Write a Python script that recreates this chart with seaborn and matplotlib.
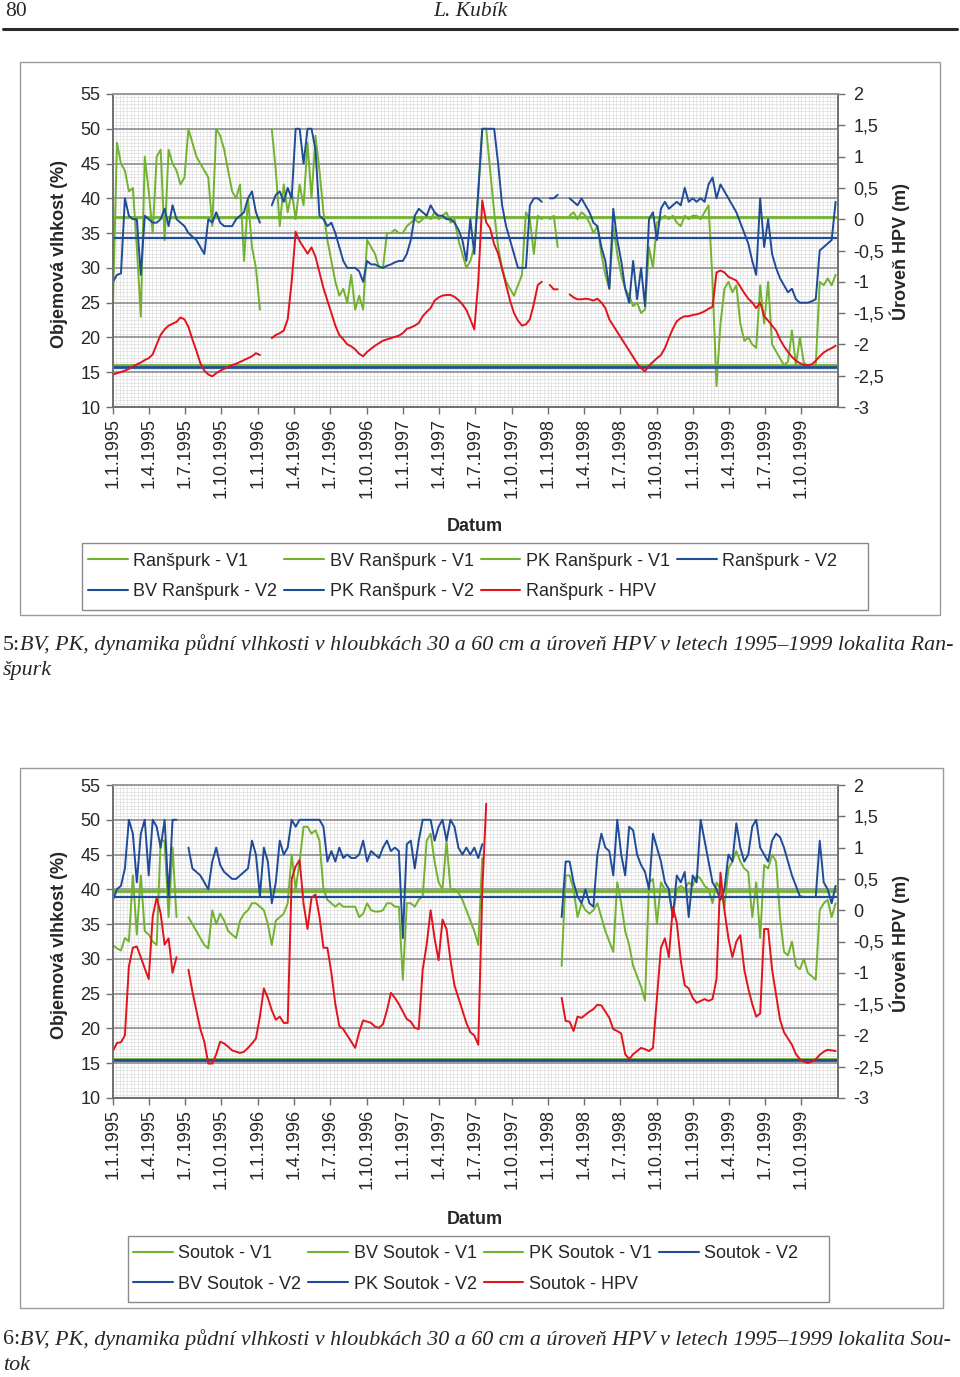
import numpy as np
import pandas as pd
import matplotlib
matplotlib.use("Agg")
import matplotlib.pyplot as plt
from matplotlib.lines import Line2D
from matplotlib.patches import Rectangle
from matplotlib.ticker import MultipleLocator
import seaborn as sns

nan = np.nan

# ---------------- data (one value every 10 days from 1.1.1995) ----------------
# Ranšpurk, soil moisture (%) at 30 cm (V1) and 60 cm (V2), groundwater level (m)
ransp_v1 = [
    25, 48, 45, 44, 41, 41.5, 33, 23, 46, 41,
    35, 46, 47, 34, 47, 45, 44, 42, 43, 50,
    48, 46, 45, 44, 43, 36, 50, 49, 47, 44,
    41, 40, 42, 31, 40, 33, 30, 24, nan, nan,
    50, 44, 36, 42, 38, 41, 37, 42, 39, 48,
    40, 49, 44, 38, 34, 31, 28, 26, 27, 25,
    29, 24, 26, 24, 34, 33, 32, 30, 30, 35,
    35, 35.5, 35, 35, 36, 36.5, 37, 36.5, 37, 37.5,
    37, 38, 37, 37.5, 38, 36.5, 37, 34, 32, 30,
    31, 33, 41, 50, 50, 44, 38, 33, 30, 28,
    27, 26, 27.5, 29, 38, 37, 32, 37.5, 37, nan,
    37, 37.5, 33, nan, nan, 37.5, 38, 37, 38, 37.5,
    36.5, 35, 36, 32, 29, 27, 36, 32, 29, 27,
    26, 24.5, 25, 23.5, 24, 33, 30, 36.5, 37, 37.5,
    37, 37.5, 36.5, 36, 37.5, 37, 37.5, 37.5, 37, 38,
    39, 28, 13, 22, 27, 28, 26.5, 27.5, 22, 19.5,
    20, 19, 18.5, 27.5, 22, 28, 19, 18, 17, 16,
    16.5, 21, 16, 20, 16.3, 16, 16, 16, 28, 27.5,
    28.5, 27.5, 29,
]
ransp_v2 = [
    28, 29, 29.2, 40, 37.5, 37, 37, 29, 37.5, 37,
    36.5, 36.5, 37, 38.5, 36, 39, 37, 36.5, 36, 35,
    34.5, 34, 33, 32, 37, 36.5, 38, 36.5, 36, 36,
    36, 37, 37.5, 38, 40, 41, 38, 36.5, nan, nan,
    39, 40.5, 41, 39.5, 41.5, 40, 50, 50, 45, 50,
    50, 47, 37.5, 37, 36, 36.5, 35, 33, 31, 30,
    30, 30, 29.5, 28, 31, 30.5, 30.5, 30.2, 30, 30.3,
    30.5, 30.8, 31, 31, 32, 34, 37.5, 38.5, 38, 37.5,
    39, 38, 37.5, 37.5, 37, 37, 36.5, 35.5, 34, 31,
    37, 32, 41, 50, 50, 50, 50, 45, 39, 36,
    34, 32, 30, 30, 30, 39, 40, 40, 39.5, nan,
    40, 40, 40.5, nan, nan, 40, 39.5, 39, 40, 39,
    38, 36.5, 36, 33, 31, 27, 38.5, 34, 31, 27,
    25, 31, 25.5, 30, 24.5, 37, 38, 34, 38.5, 39.5,
    38.5, 39, 39.5, 39, 41.5, 39.5, 40, 39.5, 40, 39.5,
    42, 43, 40, 42, 41, 40, 39, 38, 36.5, 35,
    33.5, 31, 29, 40, 33, 37, 32, 30, 28.5, 27.5,
    26.5, 27, 25.5, 25, 25, 25, 25.2, 25.5, 32.5, 33,
    33.5, 34, 39.5,
]
ransp_hpv = [
    -2.48, -2.46, -2.44, -2.42, -2.39, -2.35, -2.32, -2.29, -2.25, -2.22,
    -2.16, -2.0, -1.85, -1.76, -1.7, -1.67, -1.64, -1.57, -1.6, -1.72,
    -1.92, -2.1, -2.3, -2.42, -2.48, -2.51, -2.46, -2.42, -2.39, -2.36,
    -2.33, -2.31, -2.28, -2.25, -2.22, -2.19, -2.14, -2.17, nan, nan,
    -1.9, -1.85, -1.82, -1.78, -1.6, -1.0, -0.2, -0.35, -0.45, -0.55,
    -0.45, -0.6, -0.85, -1.1, -1.3, -1.5, -1.7, -1.85, -1.92, -2.0,
    -2.03, -2.08, -2.15, -2.19, -2.12, -2.07, -2.02, -1.98, -1.94, -1.92,
    -1.9, -1.88, -1.86, -1.82, -1.75, -1.73, -1.7, -1.66, -1.55, -1.48,
    -1.42, -1.3, -1.25, -1.22, -1.21, -1.21, -1.24, -1.29, -1.36, -1.45,
    -1.6, -1.76, -1.0, 0.3, -0.05, -0.15, -0.4, -0.55, -0.8, -1.05,
    -1.3, -1.5, -1.62, -1.7, -1.68, -1.6, -1.35, -1.05, -1.0, nan,
    -1.05, -1.12, -1.12, nan, nan, -1.2, -1.25, -1.28, -1.28, -1.27,
    -1.28, -1.3, -1.27, -1.33, -1.42, -1.6, -1.7, -1.8, -1.9, -2.0,
    -2.1, -2.2, -2.3, -2.38, -2.43, -2.34, -2.28, -2.22, -2.17, -2.06,
    -1.9, -1.75, -1.63, -1.58, -1.55, -1.55, -1.53, -1.52, -1.5, -1.47,
    -1.43, -1.4, -0.85, -0.82, -0.85, -0.92, -0.95, -0.98, -1.08, -1.18,
    -1.27, -1.33, -1.42, -1.33, -1.55, -1.62, -1.7, -1.78, -1.92, -2.03,
    -2.12, -2.2, -2.26, -2.3, -2.33, -2.33, -2.32, -2.26, -2.19, -2.13,
    -2.09, -2.06, -2.02,
]
ransp_bv_v1, ransp_pk_v1 = 16.05, 37.35
ransp_bv_v2, ransp_pk_v2 = 15.8, 34.3

# Soutok
soutok_v1 = [
    32, 31.5, 31.2, 33, 32.5, 42, 33.5, 42, 34, 33.5,
    32.5, 32, 47, 47, 36, 46, 36, nan, nan, 36,
    35, 34, 33, 32, 31.5, 37, 35, 36.5, 35.5, 34,
    33.5, 33, 35.5, 36.5, 37, 38, 38, 37.5, 37, 35,
    32, 35.5, 36, 36.5, 38, 45, 40, 44, 49, 49,
    48, 48.5, 47, 40, 38.5, 38, 37.5, 38, 37.5, 37.5,
    37.5, 37.5, 36, 36.5, 38, 37, 36.8, 36.8, 37, 38,
    38, 37.5, 37.5, 27, 38, 38, 37.5, 38.5, 39, 47,
    48, 44, 41, 40, 47, 40, 40, 39.5, 38.5, 37,
    35.5, 34, 32, 44.5, nan, nan, nan, nan, nan, nan,
    nan, nan, nan, nan, nan, nan, nan, nan, nan, nan,
    nan, nan, nan, 29, 42, 42, 40, 36, 38, 37,
    36.5, 37, 38, 36, 34, 32.5, 31, 41, 38, 34,
    32, 29, 27.5, 26, 24, 41, 41.5, 35, 41, 40,
    39.5, 36, 40, 40.5, 40, 41, 40.5, 42, 41.5, 40.5,
    40, 38, 41, 40, 37.5, 43, 44, 45.5, 44, 43,
    42.5, 36, 41, 33, 43.5, 43, 45, 44, 36, 31,
    30.5, 32.5, 29, 28.5, 30, 28, 27.5, 27, 37, 38,
    38.5, 36, 38,
]
soutok_v2 = [
    38.5, 40, 40.5, 43, 50, 48, 41, 48, 50, 42,
    50, 49, 46, 50, 39, 50, 50, nan, nan, 46,
    43, 42.5, 42, 41, 40, 44, 46, 43.5, 42.5, 42,
    41.5, 41.5, 42, 42.5, 43, 47, 45, 39, 46, 44,
    38, 41, 47, 45, 46, 50, 49, 50, 50, 50,
    50, 50, 50, 49, 44, 45.5, 44, 46, 44.5, 45,
    44.5, 44.5, 45, 47, 44, 45.5, 45, 44.5, 46, 47,
    45.5, 46, 45.5, 33, 46.5, 47, 43, 47, 50, 50,
    50, 47, 49, 50, 47, 50, 49, 46, 45, 46,
    45, 46, 44.5, 46.5, nan, nan, nan, nan, nan, nan,
    nan, nan, nan, nan, nan, nan, nan, nan, nan, nan,
    nan, nan, nan, 36, 44, 44, 41, 39, 38, 40,
    38, 37.5, 45, 48, 46, 45.5, 42, 50, 45, 42,
    49, 48.5, 45, 43.5, 42.5, 40, 48, 46, 44, 41,
    40, 36, 42, 41, 42.5, 36, 42, 41, 50, 47,
    44, 41, 40, 38.5, 40, 45, 44, 49.5, 46, 44,
    45, 49, 50, 46, 45, 44, 47, 48, 47.5, 46,
    44, 42, 40.5, 39, 38.9, 38.9, 38.9, 38.9, 47, 41,
    40, 38, 40.5,
]
soutok_hpv = [
    -2.25, -2.12, -2.11, -2.0, -0.9, -0.6, -0.58, -0.75, -0.93, -1.1,
    -0.1, 0.2, -0.05, -0.55, -0.45, -1.0, -0.75, nan, nan, -0.95,
    -1.3, -1.6, -1.9, -2.1, -2.45, -2.45, -2.3, -2.1, -2.13, -2.18,
    -2.24, -2.26, -2.28, -2.26, -2.2, -2.13, -2.05, -1.7, -1.25, -1.4,
    -1.6, -1.75, -1.7, -1.8, -1.8, 0.5, 0.7, 0.8, 0.1, -0.3,
    0.2, 0.25, -0.1, -0.6, -0.6, -1.0, -1.5, -1.85, -1.9, -2.0,
    -2.1, -2.2, -1.95, -1.76, -1.78, -1.8, -1.86, -1.88, -1.82, -1.6,
    -1.32, -1.4, -1.5, -1.62, -1.74, -1.78, -1.88, -1.9, -0.95, -0.55,
    0.0, -0.45, -0.8, -0.15, -0.3, -0.8, -1.2, -1.4, -1.6, -1.8,
    -1.95, -2.0, -2.15, 0.3, 1.7, nan, nan, nan, nan, nan,
    nan, nan, nan, nan, nan, nan, nan, nan, nan, nan,
    nan, nan, nan, -1.4, -1.77, -1.78, -1.93, -1.7, -1.72, -1.67,
    -1.62, -1.58, -1.51, -1.52, -1.62, -1.72, -1.9, -1.93, -1.97, -2.3,
    -2.38, -2.3, -2.25, -2.2, -2.22, -2.25, -2.2, -1.4, -0.6, -0.45,
    -0.75, 0.05, -0.2, -0.8, -1.2, -1.25, -1.4, -1.48, -1.45, -1.42,
    -1.45, -1.42, -1.1, 0.6, 0.0, -0.45, -0.75, -0.5, -0.4, -0.95,
    -1.25, -1.5, -1.7, -1.65, -0.3, -0.3, -0.95, -1.35, -1.75, -1.95,
    -2.05, -2.15, -2.3, -2.38, -2.42, -2.44, -2.42, -2.38, -2.31, -2.26,
    -2.23, -2.24, -2.25,
]
soutok_bv_v1, soutok_pk_v1 = 15.6, 39.8
soutok_bv_v2, soutok_pk_v2 = 15.4, 38.9

quarter_labels = [
    '1.1.1995', '1.4.1995', '1.7.1995', '1.10.1995',
    '1.1.1996', '1.4.1996', '1.7.1996', '1.10.1996',
    '1.1.1997', '1.4.1997', '1.7.1997', '1.10.1997',
    '1.1.1998', '1.4.1998', '1.7.1998', '1.10.1998',
    '1.1.1999', '1.4.1999', '1.7.1999', '1.10.1999',
]
moisture_ticks = [10, 15, 20, 25, 30, 35, 40, 45, 50, 55]
hpv_ticks = [-3, -2.5, -2, -1.5, -1, -0.5, 0, 0.5, 1, 1.5, 2]

GREEN = '#72b230'
BLUE = '#1f4b98'
RED = '#e2131c'
AXIS_GREY = '#6e6e6e'

sns.set_theme(style='white')
plt.rcParams['font.family'] = ['Liberation Sans', 'DejaVu Sans']

W, H = 960, 1377
dates = pd.date_range('1995-01-01', periods=len(ransp_v1), freq='10D')
tick_dates = [pd.to_datetime(s, format='%d.%m.%Y') for s in quarter_labels]


def fx(px):
    return px / W


def fy(py):
    return 1 - py / H


def segments(values):
    df = pd.DataFrame({'date': dates, 'value': values})
    df['seg'] = df['value'].isna().cumsum()
    return df.dropna()


def draw_series(ax, values, color, lw=1.4):
    sns.lineplot(data=segments(values), x='date', y='value', units='seg',
                 estimator=None, color=color, lw=lw, ax=ax, legend=False)


def draw_chart(fig, top, v1, v2, hpv, bv_v1, pk_v1, bv_v2, pk_v2):
    ax = fig.add_axes([fx(113), fy(top + 313), fx(838) - fx(113), 313 / H])
    ax.set_axisbelow(True)

    # Excel series order: V1, BV V1, PK V1, V2, BV V2, PK V2, HPV
    draw_series(ax, v1, GREEN)
    ax.axhline(bv_v1, color=GREEN, lw=2.0)
    ax.axhline(pk_v1, color=GREEN, lw=2.0)
    draw_series(ax, v2, BLUE)
    ax.axhline(bv_v2, color=BLUE, lw=2.0)
    ax.axhline(pk_v2, color=BLUE, lw=1.6)

    ax.set_xlim(pd.Timestamp('1995-01-01'), pd.Timestamp('2000-01-01'))
    ax.set_ylim(10, 55)
    ax.set_yticks(moisture_ticks)
    ax.set_yticklabels([str(t) for t in moisture_ticks])
    ax.set_xticks(tick_dates)
    ax.set_xticklabels(quarter_labels, rotation=90)
    ax.set_xlabel('')
    ax.set_ylabel('')

    ax.xaxis.set_minor_locator(MultipleLocator(91.3 / 10))
    ax.yaxis.set_minor_locator(MultipleLocator(0.5))
    ax.grid(which='minor', color='#dedede', lw=0.5)
    ax.grid(which='major', axis='y', color='#8c8c8c', lw=1.2)
    ax.grid(which='major', axis='x', visible=False)

    ax.tick_params(axis='both', which='minor', length=0)
    ax.tick_params(axis='y', which='major', direction='out', length=5, width=1,
                   color=AXIS_GREY, labelsize=13, pad=4, left=True)
    ax.tick_params(axis='x', which='major', direction='out', length=5, width=1,
                   color=AXIS_GREY, labelsize=13, pad=3, bottom=True)

    ax2 = ax.twinx()
    draw_series(ax2, hpv, RED)
    ax2.set_ylim(-3, 2)
    ax2.set_yticks(hpv_ticks)
    ax2.set_yticklabels([f'{t:g}'.replace('.', ',') for t in hpv_ticks])
    ax2.set_ylabel('')
    ax2.grid(False)
    ax2.tick_params(axis='y', direction='out', length=5, width=1,
                    color=AXIS_GREY, labelsize=13, pad=6, right=True)

    for a in (ax, ax2):
        for side in ('left', 'bottom', 'right'):
            a.spines[side].set_color(AXIS_GREY)
            a.spines[side].set_linewidth(1.2)
        a.spines['top'].set_color('#9a9a9a')
        a.spines['top'].set_linewidth(1.2)
    return ax


def draw_box(fig, x0, y0, x1, y1, color='#9a9a9a'):
    fig.patches.append(Rectangle((fx(x0), fy(y1)), fx(x1) - fx(x0), (y1 - y0) / H,
                                 transform=fig.transFigure, fill=False,
                                 edgecolor=color, lw=1.0, zorder=0))


def draw_legend(fig, x_start, y_mid, site):
    colors = [GREEN, GREEN, GREEN, BLUE, BLUE, BLUE, RED]
    labels = [f'{site} - V1', f'BV {site} - V1', f'PK {site} - V1',
              f'{site} - V2', f'BV {site} - V2', f'PK {site} - V2',
              f'{site} - HPV']
    # legend fills column-wise, reorder so rows read like the original
    order = [0, 4, 1, 5, 2, 6, 3]
    handles = [Line2D([], [], color=colors[i], lw=1.5) for i in order]
    fig.legend(handles, [labels[i] for i in order], loc='center left',
               bbox_to_anchor=(fx(x_start), fy(y_mid)), ncol=4, fontsize=13,
               frameon=False, handlelength=2.2, handletextpad=0.3,
               columnspacing=0.4, labelspacing=0.75, borderpad=0,
               borderaxespad=0)


def draw_caption(fig, y, number, text, rest):
    serif = ['Liberation Serif', 'DejaVu Serif']
    fig.text(fx(3), fy(y), number, family=serif, fontsize=15.8, va='center')
    fig.text(fx(20), fy(y), text, family=serif, style='italic', fontsize=15.8,
             va='center')
    fig.text(fx(3), fy(y + 26), rest, family=serif, style='italic',
             fontsize=15.8, va='center')


fig = plt.figure(figsize=(W / 100, H / 100), dpi=100)

# page header
fig.text(fx(5), fy(11), '80', family=['Liberation Serif'], fontsize=15.5, va='center')
fig.text(fx(470), fy(11), 'L. Kubík', family=['Liberation Serif'], style='italic',
         fontsize=15.5, va='center', ha='center')
fig.add_artist(Line2D([fx(3), fx(957)], [fy(29), fy(29)], color='#2a2a2a', lw=2.2))

caption_text = ('BV, PK, dynamika půdní vlhkosti v hloubkách 30 a 60 cm a úroveň HPV '
                'v letech 1995–1999 lokalita ')

# chart 5: Ranšpurk
draw_box(fig, 20, 62, 940, 615)
draw_chart(fig, 94, ransp_v1, ransp_v2, ransp_hpv,
           ransp_bv_v1, ransp_pk_v1, ransp_bv_v2, ransp_pk_v2)
fig.text(fx(60), fy(254), 'Objemová vlhkost (%)', rotation=90, weight='bold',
         fontsize=13, ha='center', va='center')
fig.text(fx(900), fy(252), 'Úroveň HPV (m)', rotation=90, weight='bold',
         fontsize=13, ha='center', va='center')
fig.text(fx(475), fy(527), 'Datum', weight='bold', fontsize=13, ha='center', va='center')
draw_box(fig, 82, 543, 868, 610, color='#8a8a8a')
draw_legend(fig, 88, 576.5, 'Ranšpurk')
draw_caption(fig, 645, '5:', caption_text + 'Ran-', 'špurk')

# chart 6: Soutok
draw_box(fig, 20, 768, 943, 1308)
draw_chart(fig, 785, soutok_v1, soutok_v2, soutok_hpv,
           soutok_bv_v1, soutok_pk_v1, soutok_bv_v2, soutok_pk_v2)
fig.text(fx(60), fy(945), 'Objemová vlhkost (%)', rotation=90, weight='bold',
         fontsize=13, ha='center', va='center')
fig.text(fx(900), fy(943), 'Úroveň HPV (m)', rotation=90, weight='bold',
         fontsize=13, ha='center', va='center')
fig.text(fx(475), fy(1219), 'Datum', weight='bold', fontsize=13, ha='center', va='center')
draw_box(fig, 128, 1236, 829, 1302, color='#8a8a8a')
draw_legend(fig, 133, 1269, 'Soutok')
draw_caption(fig, 1340, '6:', caption_text + 'Sou-', 'tok')

fig.savefig('out.png', dpi=100)
